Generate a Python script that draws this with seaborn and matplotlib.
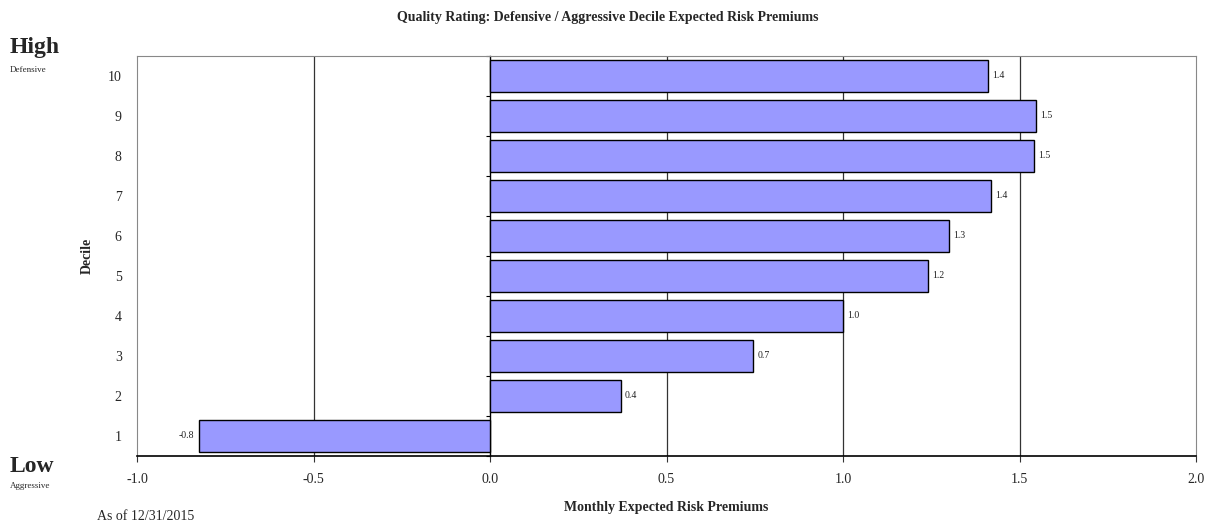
import matplotlib
matplotlib.use("Agg")
import matplotlib.pyplot as plt
import seaborn as sns
import pandas as pd
import numpy as np

deciles = ["10", "9", "8", "7", "6", "5", "4", "3", "2", "1"]
premiums = [1.41, 1.547, 1.54, 1.42, 1.30, 1.24, 1.00, 0.745, 0.37, -0.825]
xticks = [-1.0, -0.5, 0.0, 0.5, 1.0, 1.5, 2.0]

sns.set_theme(style="white")
plt.rcParams["font.family"] = ["Liberation Serif", "DejaVu Serif"]

df = pd.DataFrame({"Decile": deciles, "Premium": premiums})

fig = plt.figure(figsize=(12.15, 5.29), dpi=100)
ax = fig.add_axes([137/1215, 1 - 456/529, (1196-137)/1215, (456-56)/529])

sns.barplot(data=df, y="Decile", x="Premium", order=deciles, orient="h",
            color="#9999FF", saturation=1, edgecolor="black", linewidth=1.0,
            width=0.78, ax=ax, zorder=3)

ax.set_xlim(-1.0, 2.0)
ax.set_ylim(len(deciles) - 0.5, -0.5)
ax.set_xticks(xticks)
ax.set_xticklabels([f"{v:.1f}" for v in xticks], fontsize=10)
ax.tick_params(axis="x", length=4, width=0.8, color="#333333", direction="out", pad=8, bottom=True)
ax.tick_params(axis="y", length=0, pad=11, labelsize=10)
for t in xticks[1:-1]:
    if t != 0.0:
        ax.axvline(t, color="#333333", linewidth=0.9, zorder=1)

for s in ["top", "right", "left"]:
    ax.spines[s].set_color("#888888")
    ax.spines[s].set_linewidth(0.8)
ax.spines["bottom"].set_color("black")
ax.spines["bottom"].set_linewidth(1.2)

# axis line at zero with ticks at category boundaries
sec = ax.secondary_yaxis(1/3)
sec.set_yticks(np.arange(-0.5, len(deciles), 1.0))
sec.set_yticklabels([])
sec.tick_params(axis="y", length=3, width=0.8, direction="out", color="black")
sec.spines["left"].set_color("black")
sec.spines["left"].set_linewidth(1.0)

for i, v in enumerate(premiums):
    if v >= 0:
        ax.text(v + 0.012, i, f"{v:.1f}", va="center", ha="left", fontsize=7, color="#222222")
    else:
        ax.text(v - 0.012, i, f"{v:.1f}", va="center", ha="right", fontsize=7, color="#222222")

ax.set_xlabel("Monthly Expected Risk Premiums", fontsize=10, fontweight="bold", labelpad=11)
ax.set_ylabel("Decile", fontsize=10, fontweight="bold", labelpad=10)

fig.text(0.5, 1 - 18/529, "Quality Rating: Defensive / Aggressive Decile Expected Risk Premiums",
         ha="center", va="center", fontsize=10, fontweight="bold")
fig.text(10/1215, 1 - 48/529, "High", ha="left", va="center", fontsize=17, fontweight="bold")
fig.text(10/1215, 1 - 70/529, "Defensive", ha="left", va="center", fontsize=6.5)
fig.text(10/1215, 1 - 466/529, "Low", ha="left", va="center", fontsize=17, fontweight="bold")
fig.text(10/1215, 1 - 486/529, "Aggressive", ha="left", va="center", fontsize=6.5)
fig.text(97/1215, 1 - 517/529, "As of 12/31/2015", ha="left", va="center", fontsize=10)

fig.savefig("out.png", dpi=100)
